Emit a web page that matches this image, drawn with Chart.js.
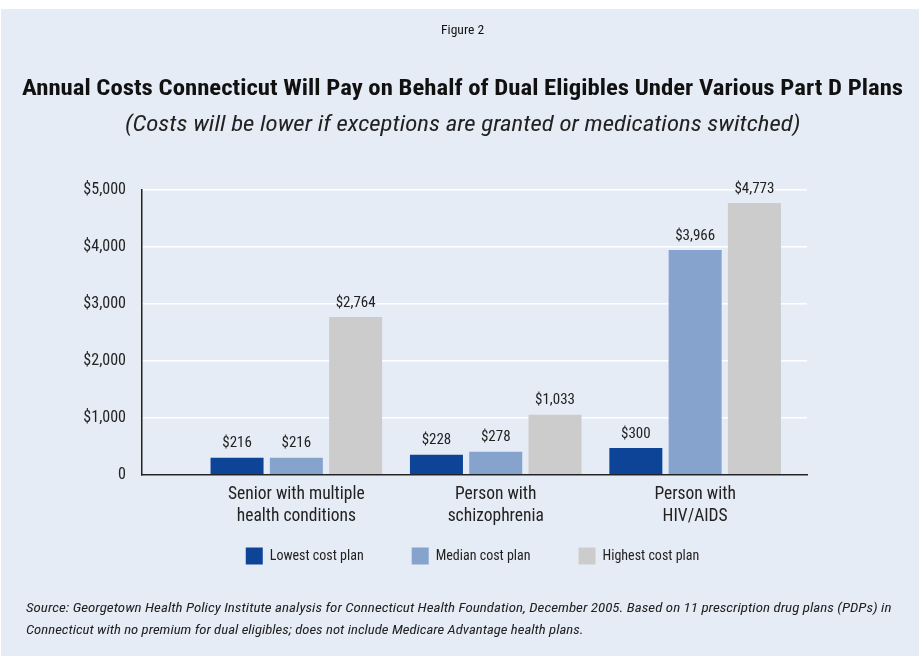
<!DOCTYPE html>
<html>
<head>
<meta charset="utf-8">
<script src="https://cdn.jsdelivr.net/npm/chart.js@4"></script>
<style>
  body { margin: 0; background: #fff; width: 924px; height: 656px; overflow: hidden; position: relative; }
  #panel { position: absolute; left: 1px; top: 9px; width: 918px; height: 647px; background: #e6ecf5; }
  canvas { position: absolute; left: 0; top: 0; }
  .txt { position: absolute; color: #111; font-family: "Roboto Condensed", "Liberation Sans", sans-serif; white-space: nowrap; transform-origin: 0 0; }
</style>
</head>
<body>
<div id="panel"></div>
<canvas id="grafico" width="924" height="656"></canvas>
<div class="txt" data-x="441" data-y="23" data-w="43" style="font-size:12px">Figure 2</div>
<div class="txt" data-x="22" data-y="75" data-w="881" style="font-size:22px;font-weight:bold">Annual Costs Connecticut Will Pay on Behalf of Dual Eligibles Under Various Part D Plans</div>
<div class="txt" data-x="125" data-y="111" data-w="675" style="font-size:22px;font-style:italic;color:#222">(Costs will be lower if exceptions are granted or medications switched)</div>
<div class="txt" data-x="26" data-y="600" data-w="866" style="font-size:13px;font-style:italic;color:#222">Source: Georgetown Health Policy Institute analysis for Connecticut Health Foundation, December 2005. Based on 11 prescription drug plans (PDPs) in</div>
<div class="txt" data-x="26" data-y="622" data-w="557" style="font-size:13px;font-style:italic;color:#222">Connecticut with no premium for dual eligibles; does not include Medicare Advantage health plans.</div>
<script>
const FUENTE = '"Roboto Condensed", "Liberation Sans", sans-serif';

// categorias (eje x)
const categorias = [
  ["Senior with multiple", "health conditions"],
  ["Person with", "schizophrenia"],
  ["Person with", "HIV/AIDS"]
];
const series = ["Lowest cost plan", "Median cost plan", "Highest cost plan"];

// altura de las barras tal como se ven en la figura
const planBajo = [298, 351, 468];
const planMedio = [298, 403, 3939];
const planAlto = [2765, 1052, 4763];

// etiquetas impresas encima de cada barra
const etiquetasBajo = ["$216", "$228", "$300"];
const etiquetasMedio = ["$216", "$278", "$3,966"];
const etiquetasAlto = ["$2,764", "$1,033", "$4,773"];

const ticksY = [0, 1000, 2000, 3000, 4000, 5000];
const colores = ["#0d4497", "#85a3cd", "#cccccc"];

const valores = [planBajo, planMedio, planAlto];
const etiquetas = [etiquetasBajo, etiquetasMedio, etiquetasAlto];

// textos html: posicion y ancho como en la figura
document.querySelectorAll(".txt").forEach(el => {
  el.style.left = el.dataset.x + "px";
  el.style.top = el.dataset.y + "px";
  el.style.transform = "scaleX(" + (el.dataset.w / el.offsetWidth) + ")";
});

// etiquetas de valor encima de las barras
const etiquetasBarras = {
  id: "etiquetasBarras",
  afterDatasetsDraw(chart) {
    const ctx = chart.ctx;
    ctx.save();
    ctx.font = "15px " + FUENTE;
    ctx.fillStyle = "#222";
    ctx.textAlign = "center";
    ctx.textBaseline = "middle";
    chart.data.datasets.forEach((ds, d) => {
      chart.getDatasetMeta(d).data.forEach((bar, i) => {
        ctx.fillText(etiquetas[d][i], bar.x, bar.y - 14);
      });
    });
    ctx.restore();
  }
};

// mover la leyenda a su sitio
const moverLeyenda = {
  id: "moverLeyenda",
  afterLayout(chart) {
    const l = chart.legend;
    l.left += 48; l.right += 48;
    l.top -= 35.2; l.bottom -= 35.2;
  }
};

new Chart(document.getElementById("grafico"), {
  type: "bar",
  data: {
    datasets: series.map((nombre, d) => ({
      label: nombre,
      data: valores[d].map((v, i) => ({ x: i, y: v })),
      backgroundColor: colores[d],
      barPercentage: 0.894,
      categoryPercentage: 0.892
    }))
  },
  options: {
    responsive: false,
    animation: false,
    layout: { padding: { top: 189.5, left: 42, right: 117, bottom: 46.3 } },
    plugins: {
      legend: {
        position: "bottom",
        labels: {
          boxWidth: 17,
          boxHeight: 17,
          padding: 48,
          color: "#222",
          font: { family: FUENTE, size: 14 }
        }
      },
      tooltip: { enabled: false }
    },
    scales: {
      x: {
        type: "linear",
        offset: false,
        min: -0.774,
        max: 2.561,
        grid: { display: false, drawTicks: false, offset: false },
        border: { color: "#222", width: 1.5 },
        afterBuildTicks: (s) => { s.ticks = categorias.map((c, i) => ({ value: i })); },
        afterFit: (s) => { s.height = 60; },
        ticks: {
          padding: 9,
          color: "#222",
          font: { family: FUENTE, size: 17.5, lineHeight: 1.257 },
          callback: (v) => categorias[v]
        }
      },
      y: {
        min: 0,
        max: 5000,
        afterBuildTicks: (s) => { s.ticks = ticksY.map(v => ({ value: v })); },
        afterFit: (s) => { s.width = 100; },
        grid: { color: "#ffffff", lineWidth: 1.5, drawTicks: false },
        border: { color: "#222", width: 1.5 },
        ticks: {
          padding: 16,
          color: "#222",
          font: { family: FUENTE, size: 16 },
          callback: (v) => v === 0 ? "0" : "$" + v.toLocaleString("en-US")
        }
      }
    }
  },
  plugins: [etiquetasBarras, moverLeyenda]
});
</script>
</body>
</html>
